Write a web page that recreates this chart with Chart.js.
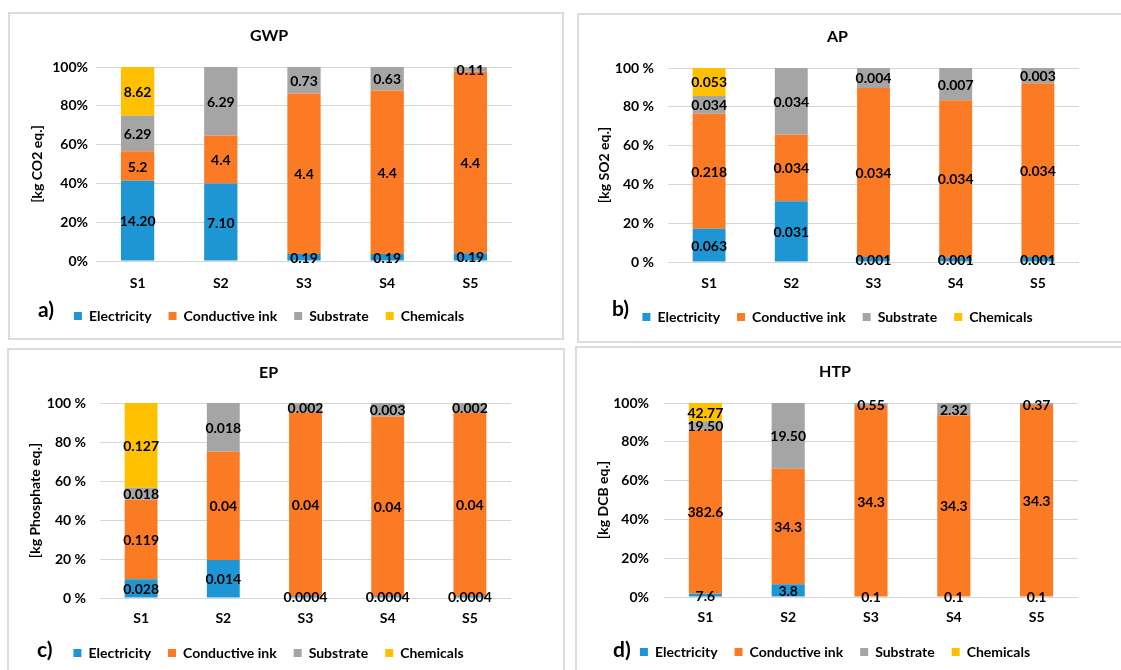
<!DOCTYPE html>
<html>
<head>
<meta charset="utf-8">
<script src="https://cdn.jsdelivr.net/npm/chart.js@4.4.1/dist/chart.umd.min.js"></script>
<style>
  html, body { margin: 0; padding: 0; background: #fff; }
  body { width: 1121px; height: 670px; position: relative; overflow: hidden; font-family: Lato, "Open Sans", sans-serif; }
  .frame { position: absolute; border: 2px solid #dcdcdc; box-sizing: border-box; }
  .cv { position: absolute; }
  .tag { position: absolute; font: bold 21px Lato, sans-serif; color: #000; line-height: 1; }
</style>
</head>
<body>
<div class="frame" style="left:8px;top:12px;width:556px;height:328px;"></div>
<div class="frame" style="left:577px;top:13px;width:560px;height:330px;"></div>
<div class="frame" style="left:7px;top:348px;width:558px;height:340px;"></div>
<div class="frame" style="left:575px;top:346px;width:560px;height:340px;"></div>

<canvas id="gwp" class="cv"></canvas>
<canvas id="ap" class="cv"></canvas>
<canvas id="ep" class="cv"></canvas>
<canvas id="htp" class="cv"></canvas>

<div class="tag" style="left:38px;top:298px;">a)</div>
<div class="tag" style="left:612px;top:297px;">b)</div>
<div class="tag" style="left:37px;top:638px;">c)</div>
<div class="tag" style="left:613px;top:638px;">d)</div>

<script>
// Scenarios and impact sources shared by all four panels
const scenarios = ['S1', 'S2', 'S3', 'S4', 'S5'];
const sources = ['Electricity', 'Conductive ink', 'Substrate', 'Chemicals'];
const sourceColors = ['#1f96d4', '#fb7b25', '#a5a5a5', '#ffc000'];

// Percentage tick labels (two spellings are used across the panels)
const pctTicks = ['0%', '20%', '40%', '60%', '80%', '100%'];
const pctTicksSpaced = ['0 %', '20 %', '40 %', '60 %', '80 %', '100 %'];

// GWP [kg CO2 eq.]
const gwpElectricity = ['14.20', '7.10', '0.19', '0.19', '0.19'];
const gwpInk         = ['5.2', '4.4', '4.4', '4.4', '4.4'];
const gwpSubstrate   = ['6.29', '6.29', '0.73', '0.63', '0.11'];
const gwpChemicals   = ['8.62', null, null, null, null];

// AP [kg SO2 eq.]
const apElectricity = ['0.063', '0.031', '0.001', '0.001', '0.001'];
const apInk         = ['0.218', '0.034', '0.034', '0.034', '0.034'];
const apSubstrate   = ['0.034', '0.034', '0.004', '0.007', '0.003'];
const apChemicals   = ['0.053', null, null, null, null];

// EP [kg Phosphate eq.]
const epElectricity = ['0.028', '0.014', '0.0004', '0.0004', '0.0004'];
const epInk         = ['0.119', '0.04', '0.04', '0.04', '0.04'];
const epSubstrate   = ['0.018', '0.018', '0.002', '0.003', '0.002'];
const epChemicals   = ['0.127', null, null, null, null];

// HTP [kg DCB eq.]
const htpElectricity = ['7.6', '3.8', '0.1', '0.1', '0.1'];
const htpInk         = ['382.6', '34.3', '34.3', '34.3', '34.3'];
const htpSubstrate   = ['19.50', '19.50', '0.55', '2.32', '0.37'];
const htpChemicals   = ['42.77', null, null, null, null];

const FONT = 'Lato';

// Writes each segment's absolute value in the middle of its bar segment
const valueLabels = {
  id: 'valueLabels',
  afterDatasetsDraw(chart) {
    const ctx = chart.ctx;
    ctx.save();
    ctx.font = 'bold 14px ' + FONT;
    ctx.fillStyle = '#000';
    ctx.textAlign = 'center';
    ctx.textBaseline = 'middle';
    chart.data.datasets.forEach((ds, i) => {
      const meta = chart.getDatasetMeta(i);
      meta.data.forEach((bar, j) => {
        const txt = ds.valueText[j];
        if (txt == null) return;
        const p = bar.getProps(['x', 'y', 'base'], true);
        ctx.fillText(txt, p.x, (p.y + p.base) / 2 + 1);
      });
    });
    ctx.restore();
  }
};

function buildPanel(id, title, yTitle, series, ticks, g) {
  const canvas = document.getElementById(id);
  const H = g.legendY + 17;
  canvas.width = g.w; canvas.height = H;
  canvas.style.width = g.w + 'px'; canvas.style.height = H + 'px';
  canvas.style.left = g.left + 'px'; canvas.style.top = g.top + 'px';

  const values = series.map(s => s.map(v => (v == null ? 0 : parseFloat(v))));
  const totals = scenarios.map((_, j) => values.reduce((a, s) => a + s[j], 0));

  const datasets = series.map((s, i) => ({
    label: sources[i],
    data: values[i].map((v, j) => (s[j] == null ? null : v / totals[j] * 100)),
    valueText: s,
    backgroundColor: sourceColors[i],
    borderWidth: 0,
    categoryPercentage: 0.4,
    barPercentage: 1
  }));

  const tickFont = { family: FONT, size: 14, weight: 'bold' };
  const titleTop = g.titleY - 9.6;

  return new Chart(canvas, {
    type: 'bar',
    data: { labels: scenarios, datasets },
    options: {
      responsive: false,
      animation: false,
      devicePixelRatio: 1,
      layout: { padding: 0 },
      plugins: {
        title: {
          display: true, text: title, color: '#000',
          font: { family: FONT, size: 16, weight: 'bold' },
          padding: { top: titleTop, bottom: g.plotTop - titleTop - 19.2 }
        },
        legend: {
          position: 'bottom',
          labels: { boxWidth: 8, boxHeight: 8, padding: 17, color: '#000', font: tickFont }
        },
        tooltip: { enabled: false }
      },
      scales: {
        x: {
          stacked: true,
          grid: { display: false, drawTicks: false },
          border: { display: false },
          ticks: { color: '#000', font: tickFont, padding: g.xLabelY - g.plotBottom - 8.4 },
          afterFit(s) { s.height = H - 41 - g.plotBottom; }
        },
        y: {
          stacked: true, min: 0, max: 100,
          ticks: { stepSize: 20, color: '#000', font: tickFont, padding: g.yTickPad,
                   callback: v => ticks[Math.round(v / 20)] },
          grid: { color: '#d6d6d6', lineWidth: 1, drawTicks: false },
          border: { display: false },
          title: { display: true, text: yTitle, color: '#000', font: tickFont,
                   padding: { top: g.yTitleX - 8.4, bottom: 0 } },
          afterFit(s) { s.width = g.plotLeft; }
        },
        spare: {
          type: 'linear', position: 'right', display: true,
          grid: { display: false, drawTicks: false }, border: { display: false },
          ticks: { display: false },
          afterFit(s) { s.width = g.w - g.plotRight; }
        }
      }
    },
    plugins: [valueLabels]
  });
}

buildPanel('gwp', 'GWP', '[kg CO2 eq.]',
  [gwpElectricity, gwpInk, gwpSubstrate, gwpChemicals], pctTicks,
  { left: 8, top: 12, w: 522, plotLeft: 88, plotRight: 504, plotTop: 55, plotBottom: 249,
    titleY: 24, xLabelY: 271, legendY: 304, yTickPad: 8, yTitleX: 29 });

buildPanel('ap', 'AP', '[kg SO2 eq.]',
  [apElectricity, apInk, apSubstrate, apChemicals], pctTicksSpaced,
  { left: 577, top: 13, w: 521, plotLeft: 91, plotRight: 502, plotTop: 55, plotBottom: 249,
    titleY: 24, xLabelY: 270, legendY: 304, yTickPad: 14, yTitleX: 27 });

buildPanel('ep', 'EP', '[kg Phosphate eq.]',
  [epElectricity, epInk, epSubstrate, epChemicals], pctTicksSpaced,
  { left: 7, top: 348, w: 523, plotLeft: 93, plotRight: 504, plotTop: 55, plotBottom: 250,
    titleY: 25, xLabelY: 270, legendY: 305, yTickPad: 14, yTitleX: 28 });

buildPanel('htp', 'HTP', '[kg DCB eq.]',
  [htpElectricity, htpInk, htpSubstrate, htpChemicals], pctTicks,
  { left: 575, top: 346, w: 520, plotLeft: 89, plotRight: 503, plotTop: 57, plotBottom: 251,
    titleY: 26, xLabelY: 271, legendY: 306, yTickPad: 15, yTitleX: 28 });
</script>
</body>
</html>
